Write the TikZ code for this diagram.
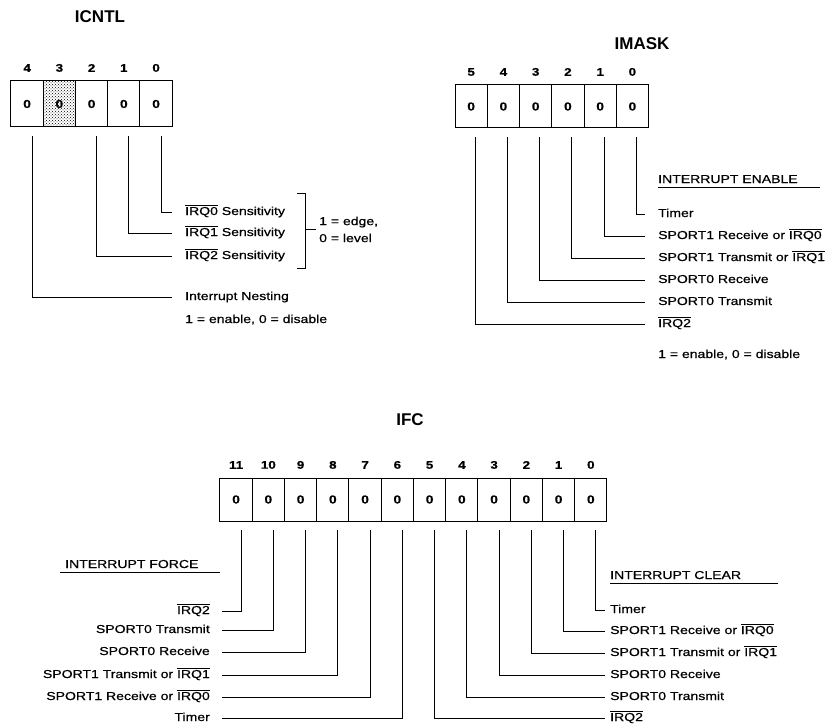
\documentclass[tikz,border=0pt]{standalone}
\usepackage{fontspec}
\setmainfont[FakeStretch=1.22, FakeBold=0.6]{Liberation Sans}
\newfontfamily\titlefont{Liberation Sans}
\usetikzlibrary{positioning,patterns}

\newcommand{\nirq}[1]{$\overline{\hbox{IRQ#1}}$}

\tikzstyle{every node}=[inner sep=3pt, font=\fontsize{11.5}{17}\selectfont]
\tikzstyle{every label}=[inner sep=0pt, yshift=9pt, font=\fontsize{11}{13}\selectfont\bfseries]
\tikzstyle{cell}=[draw, line width=1pt, outer sep=0pt, minimum width=32.25pt, minimum height=43pt, font=\fontsize{11.5}{13}\selectfont\bfseries]
\tikzstyle{regname}=[font=\titlefont\fontsize{17}{19}\selectfont\bfseries]
\tikzstyle{txt}=[anchor=west, text height=8.5pt, text depth=2.5pt]
\tikzstyle{ltxt}=[txt, anchor=east]
\tikzstyle{head}=[anchor=west, inner xsep=0pt, inner ysep=0pt, text height=8.5pt, text depth=4pt, align=left]
\tikzstyle{lead}=[line width=0.9pt, shorten <=9pt]

\begin{document}
\begin{tikzpicture}[x=1pt, y=-1pt]
    \useasboundingbox (0,0) rectangle (839,725);

    % ICNTL
    \node [regname] (icntl) at (100,17) {ICNTL};
    \node [cell, minimum height=46pt, label=above:4] (n4) at (27.1,104) {0};
    \node [cell, minimum height=46pt, label=above:3, right=0pt of n4, pattern=crosshatch dots] (n3) {0};
    \node [cell, minimum height=46pt, label=above:2, right=0pt of n3] (n2) {0};
    \node [cell, minimum height=46pt, label=above:1, right=0pt of n2] (n1) {0};
    \node [cell, minimum height=46pt, label=above:0, right=0pt of n1] (n0) {0};

    \node [txt] (s0) at (182,212) {\nirq{0} Sensitivity};
    \node [txt] (s1) at (182,233) {\nirq{1} Sensitivity};
    \node [txt] (s2) at (182,256) {\nirq{2} Sensitivity};
    \node [txt] (nest) at (182,297) {Interrupt Nesting};
    \node [txt] (nestnote) at (182,320) {1 = enable, 0 = disable};
    \node [anchor=west, align=left] (lvl) at (316,229.5) {1 = edge,\\0 = level};

    \draw [lead, shorten >=10pt] ([xshift=5pt]n0.south) |- (s0.west);
    \draw [lead, shorten >=10pt] ([xshift=5pt]n1.south) |- (s1.west);
    \draw [lead, shorten >=10pt] ([xshift=5pt]n2.south) |- (s2.west);
    \draw [lead, shorten >=10pt] ([xshift=5pt]n4.south) |- (nest.west);

    % bracket for the sensitivity bits
    \coordinate (brk) at (305,229.5);
    \draw [line width=0.9pt] (297,193) -- (305,193) -- (305,268) -- (297,268);
    \draw [line width=0.9pt] (brk) -- (lvl.west);

    % IMASK
    \node [regname] (imask) at (642,44) {IMASK};
    \node [cell, label=above:5] (m5) at (471.15,106.5) {0};
    \node [cell, label=above:4, right=0pt of m5] (m4) {0};
    \node [cell, label=above:3, right=0pt of m4] (m3) {0};
    \node [cell, label=above:2, right=0pt of m3] (m2) {0};
    \node [cell, label=above:1, right=0pt of m2] (m1) {0};
    \node [cell, label=above:0, right=0pt of m1] (m0) {0};

    \node [head, text width=162pt] (enable) at (658,180.75) {INTERRUPT ENABLE};
    \draw [line width=0.9pt] (enable.south west) -- (enable.south east);
    \node [txt] (e0) at (655,214) {Timer};
    \node [txt] (e1) at (655,236) {SPORT1 Receive or \nirq{0}};
    \node [txt] (e2) at (655,258) {SPORT1 Transmit or \nirq{1}};
    \node [txt] (e3) at (655,280) {SPORT0 Receive};
    \node [txt] (e4) at (655,302) {SPORT0 Transmit};
    \node [txt] (e5) at (655,324) {\nirq{2}};
    \node [txt] (enablenote) at (655,355) {1 = enable, 0 = disable};

    \draw [lead, shorten >=10pt] ([xshift=4pt]m0.south) |- (e0.west);
    \draw [lead, shorten >=10pt] ([xshift=4pt]m1.south) |- (e1.west);
    \draw [lead, shorten >=10pt] ([xshift=4pt]m2.south) |- (e2.west);
    \draw [lead, shorten >=10pt] ([xshift=4pt]m3.south) |- (e3.west);
    \draw [lead, shorten >=10pt] ([xshift=4pt]m4.south) |- (e4.west);
    \draw [lead, shorten >=10pt] ([xshift=4pt]m5.south) |- (e5.west);

    % IFC
    \node [regname] (ifc) at (410,420) {IFC};
    \node [cell, label=above:11] (f11) at (236.1,499.5) {0};
    \node [cell, label=above:10, right=0pt of f11] (f10) {0};
    \node [cell, label=above:9, right=0pt of f10] (f9) {0};
    \node [cell, label=above:8, right=0pt of f9] (f8) {0};
    \node [cell, label=above:7, right=0pt of f8] (f7) {0};
    \node [cell, label=above:6, right=0pt of f7] (f6) {0};
    \node [cell, label=above:5, right=0pt of f6] (f5) {0};
    \node [cell, label=above:4, right=0pt of f5] (f4) {0};
    \node [cell, label=above:3, right=0pt of f4] (f3) {0};
    \node [cell, label=above:2, right=0pt of f3] (f2) {0};
    \node [cell, label=above:1, right=0pt of f2] (f1) {0};
    \node [cell, label=above:0, right=0pt of f1] (f0) {0};

    \node [head, text width=155pt] (force) at (65,565.75) {INTERRUPT FORCE};
    \draw [line width=0.9pt] ([xshift=-5pt]force.south west) -- (force.south east);
    \node [ltxt] (p11) at (213,611) {\nirq{2}};
    \node [ltxt] (p10) at (213,630) {SPORT0 Transmit};
    \node [ltxt] (p9) at (213,652) {SPORT0 Receive};
    \node [ltxt] (p8) at (213,675) {SPORT1 Transmit or \nirq{1}};
    \node [ltxt] (p7) at (213,697) {SPORT1 Receive or \nirq{0}};
    \node [ltxt] (p6) at (213,718) {Timer};

    \draw [lead, shorten >=9pt] ([xshift=5pt]f11.south) |- (p11.east);
    \draw [lead, shorten >=9pt] ([xshift=5pt]f10.south) |- (p10.east);
    \draw [lead, shorten >=9pt] ([xshift=5pt]f9.south) |- (p9.east);
    \draw [lead, shorten >=9pt] ([xshift=5pt]f8.south) |- (p8.east);
    \draw [lead, shorten >=9pt] ([xshift=5pt]f7.south) |- (p7.east);
    \draw [lead, shorten >=9pt] ([xshift=5pt]f6.south) |- (p6.east);

    \node [head, text width=168pt] (clear) at (610,576.75) {INTERRUPT CLEAR};
    \draw [line width=0.9pt] (clear.south west) -- (clear.south east);
    \node [txt] (c0) at (607,610) {Timer};
    \node [txt] (c1) at (607,631) {SPORT1 Receive or \nirq{0}};
    \node [txt] (c2) at (607,653) {SPORT1 Transmit or \nirq{1}};
    \node [txt] (c3) at (607,675) {SPORT0 Receive};
    \node [txt] (c4) at (607,697) {SPORT0 Transmit};
    \node [txt] (c5) at (607,718) {\nirq{2}};

    \draw [lead, shorten >=2pt] ([xshift=5pt]f0.south) |- (c0.west);
    \draw [lead, shorten >=2pt] ([xshift=5pt]f1.south) |- (c1.west);
    \draw [lead, shorten >=2pt] ([xshift=5pt]f2.south) |- (c2.west);
    \draw [lead, shorten >=2pt] ([xshift=5pt]f3.south) |- (c3.west);
    \draw [lead, shorten >=2pt] ([xshift=5pt]f4.south) |- (c4.west);
    \draw [lead, shorten >=2pt] ([xshift=5pt]f5.south) |- (c5.west);
\end{tikzpicture}
\end{document}
